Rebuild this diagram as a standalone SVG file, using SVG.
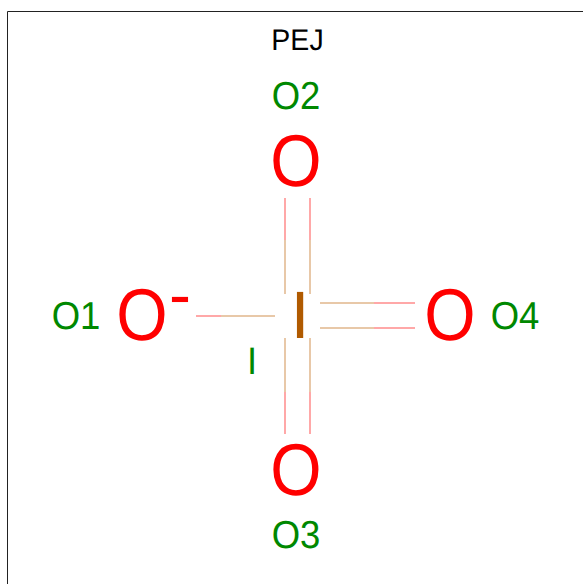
<svg xmlns="http://www.w3.org/2000/svg" width="583" height="584" viewBox="0 0 583 584">
<style>
text{font-family:"Liberation Sans",Arial,sans-serif;text-rendering:geometricPrecision;text-anchor:middle}
.a{font-size:66px;fill:#f00}
.l{font-size:36.500px;fill:#080}
.r{stroke:#ffa8a8;stroke-width:2;fill:none}
.t{stroke:#e8c8a8;stroke-width:2;fill:none}
</style>
<rect width="583" height="584" fill="#fff"/>
<path d="M7.5 584V11.5H583" fill="none" stroke="#222" stroke-width="1"/>
<g id="connectors">
<path class="r" d="M285 198V240M310 198V240M285 434V392M310 434V392M196 316H221M415 303H374M415 328H374"/>
<path class="t" d="M285 240V294M310 240V294M285 338V392M310 338V392M221 316H275M320 303H374M320 328H374"/>
</g>
<g id="title"><text transform="translate(297.500 50) scale(1 1.05)" font-size="28.500" fill="#000">PEJ</text></g>
<g id="I"><text transform="translate(300 337.500)" font-size="67" fill="#b05a00">I</text><text transform="translate(252 374) scale(1 1.05)" class="l">I</text></g>
<g id="O1"><text transform="translate(142 339.500) scale(1 1.11)" class="a">O</text><text x="180" y="317" font-size="66" fill="#f00">-</text><text transform="translate(76 328.500) scale(1 1.07)" class="l">O1</text></g>
<g id="O2"><text transform="translate(296 185.500) scale(1 1.11)" class="a">O</text><text transform="translate(296 108.500) scale(1 1.07)" class="l">O2</text></g>
<g id="O3"><text transform="translate(296 494.500) scale(1 1.11)" class="a">O</text><text transform="translate(296 547.500) scale(1 1.07)" class="l">O3</text></g>
<g id="O4"><text transform="translate(450 339.500) scale(1 1.11)" class="a">O</text><text transform="translate(515 328.500) scale(1 1.07)" class="l">O4</text></g>
</svg>
